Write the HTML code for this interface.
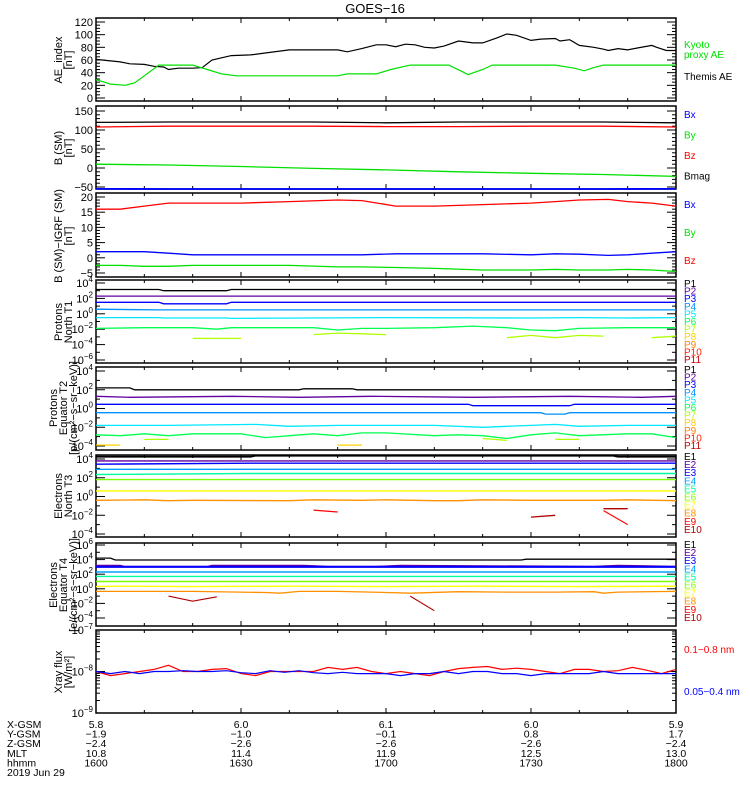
<!DOCTYPE html>
<html><head><meta charset="utf-8"><style>
body{margin:0;background:#fff;width:750px;height:800px;overflow:hidden}
svg{font-family:"Liberation Sans",sans-serif}
</style></head><body>
<svg id="c" width="750" height="800" viewBox="0 0 750 800" xmlns="http://www.w3.org/2000/svg">
<rect width="750" height="800" fill="#fff"/>
<text x="375" y="13" font-size="13" text-anchor="middle">GOES−16</text>
</svg>
<script>
// ---------- data (times in minutes after 16:00) ----------
const aeThemisT=[0,5,7,10,12,14,15,17,20,22,24,28,32,36,40,45,50,52,55,58,60,62,64,66,68,70,72,75,78,80,83,85,87,90,92,95,96,98,100,103,105,106,108,110,112,115,116,118,120];
const aeThemisV=[61,57,54,53,50,49,45,47,47,48,60,67,68,72,76,76,76,73,78,84,84,81,85,84,80,79,82,90,87,87,95,101,99,91,93,94,90,92,83,80,77,75,78,76,79,83,80,75,75];
const aeKyotoT=[0,3,6,8,10,13,20,23,26,29,50,52,58,61,65,73,77,80,82,95,99,101,103,105,120];
const aeKyotoV=[29,22,20,24,35,52,52,45,38,35,35,38,38,45,52,52,37,45,52,52,47,43,48,52,52];
const bT=[0,15,30,45,60,75,90,105,120];
const bMag=[120,121,121,121,119,121,121,121,119];
const bZ=[108,110,110,110,109,109,110,110,108];
const bY=[10,8,4,-1,-5,-10,-14,-17,-22];
const bX=[-55,-57,-57,-57,-57,-57,-57,-57,-55];
const dT=[0,5,10,15,20,30,40,50,55,62,70,80,90,95,100,106,110,115,120];
const dBz=[16,16,17,18,18,18,18.5,19,18.8,17,17,17.5,18,18.5,19,19.2,18.5,18,17];
const dBy=[-2.5,-2.5,-2.8,-2.8,-2.5,-2.5,-2.5,-3,-3,-3.2,-3.5,-4,-4,-3.8,-4,-4,-3.8,-4,-4.5];
const dBx=[2,2,2,1.5,1,1,1,1,1,1.3,1.3,1.3,1,1.3,1.2,0.8,1,1.5,2];
const pnT=[0,13,14,27,28,60,90,100,110,120];
const pn1=[3.15,3.15,3.0,3.0,3.15,3.15,3.15,3.15,3.15,3.15];
const pn2=[2.3,2.3,2.3,2.3,2.3,2.3,2.3,2.3,2.3,2.3];
const pn3=[1.5,1.5,1.3,1.3,1.5,1.5,1.5,1.5,1.5,1.5];
const pn4=[0.6,0.5,0.5,0.5,0.5,0.5,0.5,0.5,0.5,0.5];
const pn5=[-0.5,-0.5,-0.55,-0.55,-0.6,-0.5,-0.55,-0.5,-0.55,-0.5];
const pn6T=[0,10,20,25,28,35,45,50,55,60,70,78,85,90,95,100,110,120];
const pn6=[-1.9,-1.8,-1.8,-2.0,-1.8,-1.8,-1.8,-2.1,-1.9,-1.9,-1.8,-1.6,-1.8,-2.1,-2.2,-1.9,-1.8,-1.8];
const pn7aT=[20,30], pn7a=[-3.2,-3.2];
const pn7bT=[45,50,55,60], pn7b=[-2.7,-2.5,-2.6,-2.7];
const pn7cT=[85,90,95,100,105], pn7c=[-3.1,-2.8,-3.1,-2.8,-2.9];
const pn7dT=[115,120], pn7d=[-3.1,-2.9];
const peT=[0,7,8,42,43,53,54,120];
const pe1=[2.2,2.2,2.0,2.0,2.1,2.1,2.0,2.0];
const pe2T=[0,7,28,42,57,78,98,113,120];
const pe2=[1.3,1.2,1.3,1.2,1.3,1.2,1.3,1.2,1.3];
const pe3T=[0,77,78,98,99,120];
const pe3=[0.45,0.45,0.3,0.3,0.45,0.45];
const pe4T=[0,92,93,97,98,120];
const pe4=[-0.45,-0.45,-0.6,-0.6,-0.45,-0.45];
const pe5T=[0,15,33,40,50,60,70,80,85,90,95,100,110,120];
const pe5=[-1.8,-1.8,-1.7,-1.9,-1.8,-1.8,-1.8,-2.0,-1.9,-1.8,-1.7,-1.9,-1.8,-1.8];
const pe6T=[0,5,10,15,20,30,35,40,45,50,55,60,70,75,80,85,90,95,100,110,115,120];
const pe6=[-2.8,-2.9,-2.7,-2.9,-2.7,-2.7,-3.1,-2.9,-2.7,-2.9,-2.6,-2.6,-2.9,-2.8,-2.9,-3.2,-2.8,-2.6,-2.9,-2.7,-2.7,-3.1];
const pe7aT=[10,15], pe7a=[-3.3,-3.3];
const pe7bT=[80,85], pe7b=[-3.2,-3.4];
const pe7cT=[95,100], pe7c=[-3.3,-3.3];
const pe8aT=[0,5], pe8a=[-3.9,-3.9];
const pe8bT=[50,55], pe8b=[-3.9,-3.9];
const enT=[0,32,33,107,108,120];
const en1=[4.25,4.25,4.35,4.35,4.25,4.25];
const en2=[3.8,3.8,3.8,3.8,3.8,3.8];
const en3=[3.45,3.55,3.55,3.55,3.55,3.55];
const en4=[2.9,2.9,2.9,2.9,2.9,2.9];
const en5=[2.35,2.45,2.45,2.45,2.45,2.45];
const en6=[1.8,1.8,1.8,1.8,1.8,1.8];
const en7=[0.6,0.6,0.6,0.6,0.6,0.6];
const en8T=[0,10,15,20,40,45,55,60,70,75,80,90,100,105,110,120];
const en8=[-0.4,-0.35,-0.45,-0.4,-0.45,-0.35,-0.4,-0.35,-0.45,-0.45,-0.35,-0.4,-0.4,-0.4,-0.35,-0.45];
const en9aT=[45,50], en9a=[-1.45,-1.65];
const en10aT=[90,95], en10a=[-2.2,-2.0];
const en10bT=[105,110], en10b=[-1.3,-1.3];
const en9bT=[105,110], en9b=[-1.5,-3.0];
const etT=[0,3,4,88,89,120];
const et1=[4.2,4.2,3.95,3.95,4.05,4.05];
const et2T=[0,5,6,23,24,43,48,58,63,103,108,120];
const et2=[3.2,3.2,3.05,3.05,3.2,3.2,3.05,3.05,3.2,3.05,3.2,3.05];
const et3=[3.0,3.0,3.0,3.0,3.0,3.0];
const et4=[2.3,2.3,2.3,2.3,2.3,2.3];
const et5=[1.7,1.7,1.7,1.7,1.7,1.7];
const et6=[1.0,1.0,1.0,1.0,1.0,1.0];
const et7T=[0,5,20,40,60,80,100,120];
const et7=[0.3,0.35,0.3,0.35,0.3,0.35,0.3,0.35];
const et8T=[0,20,35,38,42,50,60,65,75,85,95,103,105,108,120];
const et8=[-0.35,-0.35,-0.5,-0.6,-0.35,-0.35,-0.5,-0.6,-0.4,-0.45,-0.45,-0.4,-0.6,-0.45,-0.35];
const et10aT=[15,20,25], et10a=[-1.0,-1.7,-1.1];
const et10bT=[65,70], et10b=[-1.0,-3.0];
const xrT=[0,3,6,9,12,15,18,21,24,27,30,33,36,39,42,45,48,51,54,57,60,63,66,69,72,75,78,81,84,87,90,93,96,99,102,105,108,111,114,117,120];
const xrRed=[-8.0,-8.1,-8.05,-8.0,-7.95,-7.85,-8.0,-8.0,-7.95,-7.93,-8.05,-8.1,-8.0,-8.0,-8.0,-8.0,-7.9,-7.95,-7.9,-8.0,-8.05,-8.0,-8.05,-8.1,-8.0,-7.93,-7.9,-7.88,-7.95,-7.92,-7.95,-8.0,-8.05,-7.95,-7.95,-8.0,-7.98,-7.9,-7.97,-8.05,-7.95];
const xrBlue=[-8.0,-8.05,-8.0,-8.05,-8.0,-8.0,-7.98,-8.0,-8.0,-7.98,-8.03,-8.05,-7.98,-8.02,-7.98,-8.03,-8.05,-8.02,-8.05,-8.05,-8.05,-8.1,-8.05,-8.05,-8.0,-8.05,-8.0,-8.0,-8.05,-8.05,-8.1,-8.05,-8.05,-8.05,-8.05,-8.0,-8.05,-8.05,-8.05,-8.05,-8.05];
const orbitLabels=["X-GSM","Y-GSM","Z-GSM","MLT","hhmm"];
const orbitRows=[["5.8","6.0","6.1","6.0","5.9"],["−1.9","−1.0","−0.1","0.8","1.7"],["−2.4","−2.6","−2.6","−2.6","−2.4"],["10.8","11.4","11.9","12.5","13.0"],["1600","1630","1700","1730","1800"]];

// ---------- drawing ----------
const NS="http://www.w3.org/2000/svg", svg=document.getElementById('c');
const X0=96,X1=676; const xs=t=>X0+t*(X1-X0)/120;
function mk(tag,a){const e=document.createElementNS(NS,tag);for(const k in a)e.setAttribute(k,a[k]);svg.appendChild(e);return e;}
function txt(x,y,s,size,anchor,col){const e=mk('text',{x:x,y:y,'font-size':size,'text-anchor':anchor||'start',fill:col||'#000'});e.textContent=s;return e;}
function panel(name,top,bot,ys,ticks,minor){
  const r=mk('rect',{x:X0,y:top,width:X1-X0,height:bot-top,fill:'none',stroke:'#000','stroke-width':1.5});
  
  
  for(let t=0;t<=120;t+=10){const big=t%30==0,L=big?5:3;
    mk('line',{x1:xs(t),x2:xs(t),y1:bot,y2:bot-L,stroke:'#000'});mk('line',{x1:xs(t),x2:xs(t),y1:top,y2:top+L,stroke:'#000'});}
  (minor||[]).forEach(v=>{const y=ys(v);mk('line',{x1:X0,x2:X0+4,y1:y,y2:y,stroke:'#000'});mk('line',{x1:X1,x2:X1-4,y1:y,y2:y,stroke:'#000'});});
  ticks.forEach(tk=>{const y=ys(tk[0]);mk('line',{x1:X0,x2:X0+9,y1:y,y2:y,stroke:'#000'});mk('line',{x1:X1,x2:X1-9,y1:y,y2:y,stroke:'#000'});
    const e=txt(X0-3,y+4,'',11,'end');
    if(tk[2]!==undefined){e.textContent='10';const s=document.createElementNS(NS,'tspan');s.setAttribute('dy','-5');s.setAttribute('font-size','8');s.textContent=tk[2];e.appendChild(s);}
    else e.textContent=tk[1];
    
    });
}
function series(name,T,V,ys,col,w,top,bot){
  const pts=T.map((t,i)=>xs(t).toFixed(1)+','+Math.max(top,Math.min(bot,ys(V[i]))).toFixed(1)).join(' ');
  const p=mk('polyline',{points:pts,fill:'none',stroke:col,'stroke-width':w||1.3});
  
  
}
function ylab(lines,cy,size){lines.forEach((s,i)=>{const x=70+(i-(lines.length-1)/2)*11*-1;const e=txt(0,0,s,size||11,'middle');
  e.setAttribute('transform','translate('+(62+i*10-(lines.length-2)*5)+','+cy+') rotate(-90)');
  
  });}
function legend(items,y0,dy){items.forEach((it,i)=>{const e=txt(684,y0+i*dy,it[0],10,'start',it[1]);
  
  });}
const lin=(top,bot,vt,vb)=>v=>top+(vt-v)*(bot-top)/(vt-vb);

// panel 1 AE
let y1=lin(22,98,120,0);
panel('ae-panel',18,101,y1,[[120,'120'],[100,'100'],[80,'80'],[60,'60'],[40,'40'],[20,'20'],[0,'0']],[10,30,50,70,90,110,5,15,25,35,45,55,65,75,85,95,105,115]);
series('ae-themis-line',aeThemisT,aeThemisV,y1,'#000',1.2,18,101);
series('ae-kyoto-line',aeKyotoT,aeKyotoV,y1,'#00e000',1.2,18,101);
ylab(['AE_index','[nT]'],60);
legend([['Kyoto','#00e000'],['proxy AE','#00e000']],48,10);legend([['Themis AE','#000']],80,0);
// panel 2 B SM
let y2=lin(111,187,150,-50);
panel('b-sm-panel',106,189,y2,[[150,'150'],[100,'100'],[50,'50'],[0,'0'],[-50,'−50']],[140,130,120,110,90,80,70,60,40,30,20,10,-10,-20,-30,-40]);
series('bmag-line',bT,bMag,y2,'#000',1.3,106,189);
series('bz-line',bT,bZ,y2,'#f00',1.3,106,189);
series('by-line',bT,bY,y2,'#00e000',1.3,106,189);
series('bx-line',bT,bX,y2,'#00f',1.8,106,189);
ylab(['B (SM)','[nT]'],148);
legend([['Bx','#00f'],['By','#00e000'],['Bz','#f00'],['Bmag','#000']],118,20.5);
// panel 3
let y3=lin(197,273,20,-5);
panel('b-igrf-panel',193,277,y3,[[20,'20'],[15,'15'],[10,'10'],[5,'5'],[0,'0'],[-5,'−5']],[19,18,17,16,14,13,12,11,9,8,7,6,4,3,2,1,-1,-2,-3,-4]);
series('dbz-line',dT,dBz,y3,'#f00',1.3,193,277);
series('dby-line',dT,dBy,y3,'#00e000',1.3,193,277);
series('dbx-line',dT,dBx,y3,'#00f',1.3,193,277);
ylab(['B (SM)−IGRF (SM)','[nT]'],236);
legend([['Bx','#00f'],['By','#00e000'],['Bz','#f00']],208,28);
// panel 4 protons north
let y4=lin(283,360,4,-6);
panel('protons-north-panel',280,363,y4,[[4,0,'4'],[2,0,'2'],[0,0,'0'],[-2,0,'−2'],[-4,0,'−4'],[-6,0,'−6']],[3,1,-1,-3,-5]);
const PC=['#000','#6000a0','#0000ff','#0090ff','#00e8ff','#00ff50','#b0ff00','#ffd000','#ff8000','#ff2000','#c00000'];
series('p1-north',pnT,pn1,y4,PC[0],1.3,280,363);series('p2-north',pnT,pn2,y4,PC[1],1.3,280,363);
series('p3-north',pnT,pn3,y4,PC[2],1.3,280,363);series('p4-north',pnT,pn4,y4,PC[3],1.3,280,363);
series('p5-north',pnT,pn5,y4,PC[4],1.3,280,363);series('p6-north',pn6T,pn6,y4,PC[5],1.3,280,363);
series('p7-north-a',pn7aT,pn7a,y4,PC[6],1.3,280,363);series('p7-north-b',pn7bT,pn7b,y4,PC[6],1.3,280,363);
series('p7-north-c',pn7cT,pn7c,y4,PC[6],1.3,280,363);series('p7-north-d',pn7dT,pn7d,y4,PC[6],1.3,280,363);
ylab(['Protons','North T1'],322);
legend(PC.map((c,i)=>['P'+(i+1),c]),287,7.6);
// panel 5 protons equator
let y5=lin(371,446,4,-4);
panel('protons-equator-panel',367,450,y5,[[4,0,'4'],[2,0,'2'],[0,0,'0'],[-2,0,'−2'],[-4,0,'−4']],[3,1,-1,-3]);
series('p1-eq',peT,pe1,y5,PC[0],1.3,367,450);series('p2-eq',pe2T,pe2,y5,PC[1],1.3,367,450);
series('p3-eq',pe3T,pe3,y5,PC[2],1.3,367,450);series('p4-eq',pe4T,pe4,y5,PC[3],1.3,367,450);
series('p5-eq',pe5T,pe5,y5,PC[4],1.3,367,450);series('p6-eq',pe6T,pe6,y5,PC[5],1.3,367,450);
series('p7-eq-a',pe7aT,pe7a,y5,PC[6],1.3,367,450);series('p7-eq-b',pe7bT,pe7b,y5,PC[6],1.3,367,450);series('p7-eq-c',pe7cT,pe7c,y5,PC[6],1.3,367,450);
series('p8-eq-a',pe8aT,pe8a,y5,PC[7],1.3,367,450);series('p8-eq-b',pe8bT,pe8b,y5,PC[7],1.3,367,450);
ylab(['Protons','Equator T2','[p/(cm²−s−sr−keV)]'],408,11);
legend(PC.map((c,i)=>['P'+(i+1),c]),373,7.6);
// panel 6 electrons north
const EC=['#000','#6000a0','#0000ff','#00a0ff','#00ffa0','#80ff00','#ffff00','#ff9000','#ff0000','#b00000'];
let y6=lin(459,534,4,-4);
panel('electrons-north-panel',455,537,y6,[[4,0,'4'],[2,0,'2'],[0,0,'0'],[-2,0,'−2'],[-4,0,'−4']],[3,1,-1,-3]);
[en1,en2,en3,en4,en5,en6,en7].forEach((v,i)=>series('e'+(i+1)+'-north',enT,v,y6,EC[i],i==0?1.8:1.4,455,537));
series('e8-north',en8T,en8,y6,EC[7],1.3,455,537);
series('e9-north-a',en9aT,en9a,y6,EC[8],1.3,455,537);series('e9-north-b',en9bT,en9b,y6,EC[8],1.1,455,537);
series('e10-north-a',en10aT,en10a,y6,EC[9],1.3,455,537);series('e10-north-b',en10bT,en10b,y6,EC[9],1.3,455,537);
ylab(['Electrons','North T3'],496);
legend(EC.map((c,i)=>['E'+(i+1),c]),460,8.1);
// panel 7 electrons equator
let y7=lin(545,618,6,-4);
panel('electrons-equator-panel',543,626,y7,[[6,0,'6'],[4,0,'4'],[2,0,'2'],[0,0,'0'],[-2,0,'−2'],[-4,0,'−4']],[5,3,1,-1,-3]);
series('e1-eq',etT,et1,y7,EC[0],1.3,543,626);series('e2-eq',et2T,et2,y7,EC[1],1.4,543,626);
[et3,et4,et5,et6].forEach((v,i)=>series('e'+(i+3)+'-eq',[0,24,48,72,96,120],v,y7,EC[i+2],i==0?2:1.4,543,626));
series('e7-eq',et7T,et7,y7,EC[6],1.4,543,626);series('e8-eq',et8T,et8,y7,EC[7],1.3,543,626);
series('e10-eq-a',et10aT,et10a,y7,EC[9],1.1,543,626);series('e10-eq-b',et10bT,et10b,y7,EC[9],1.1,543,626);
ylab(['Electrons','Equator T4','[e/(cm²−s−sr−keV)]'],585,11);
legend(EC.map((c,i)=>['E'+(i+1),c]),548,8.1);
// panel 8 xray
let y8=lin(630,713,-7,-9);
const xmin=[];for(let d=-9;d<-7;d++)for(let k=2;k<10;k++)xmin.push(d+Math.log10(k));
panel('xray-panel',630,713,y8,[[-7,0,'−7'],[-8,0,'−8'],[-9,0,'−9']],xmin);
series('xray-long-line',xrT,xrRed,y8,'#f00',1.2,630,713);
series('xray-short-line',xrT,xrBlue,y8,'#00f',1.2,630,713);
ylab(['Xray flux','[W/m²]'],672);
legend([['0.1−0.8 nm','#f00']],653,0);legend([['0.05−0.4 nm','#00f']],695,0);
// orbit labels
orbitLabels.forEach((l,i)=>{const y=728+i*9.6;const e=txt(7,y,l,10.5);
  
  
  orbitRows[i].forEach((v,j)=>{const f=txt(xs(j*30),y,v,10.5,'middle');
    
    });});
const d=txt(7,776,'2019 Jun 29',10.5);


</script>
</body></html>
